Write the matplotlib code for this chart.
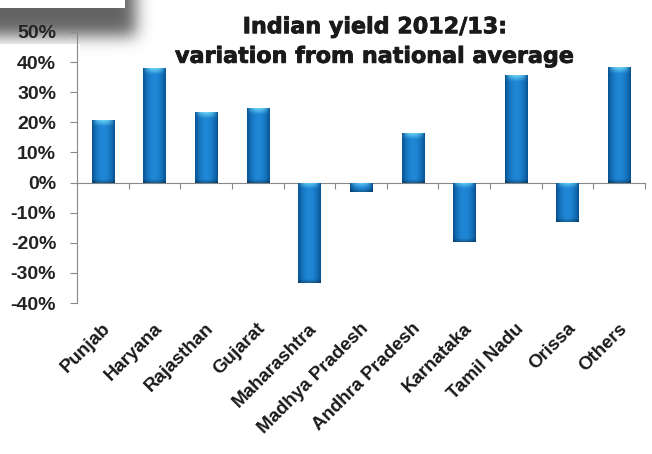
import numpy as np
import matplotlib
matplotlib.use("Agg")
import matplotlib.pyplot as plt
import matplotlib.ticker as mticker
import matplotlib.patheffects as pe
from matplotlib.transforms import blended_transform_factory

# data: yield variation vs national average, 2012/13
states = ["Punjab", "Haryana", "Rajasthan", "Gujarat", "Maharashtra",
          "Madhya Pradesh", "Andhra Pradesh", "Karnataka", "Tamil Nadu",
          "Orissa", "Others"]
variation = [0.207, 0.380, 0.233, 0.247, -0.333, -0.033, 0.163, -0.197,
             0.357, -0.130, 0.383]
yticks = [-0.4, -0.3, -0.2, -0.1, 0.0, 0.1, 0.2, 0.3, 0.4, 0.5]

W, H, DPI = 652, 454, 100
fig = plt.figure(figsize=(W / DPI, H / DPI), dpi=DPI)
fig.patch.set_facecolor("white")

# --- soft drop-shadow box in the top-left corner ---
bg = fig.add_axes([0, 0, 1, 1], zorder=-10)
bg.set_axis_off()
yy, xx = np.mgrid[0:H, 0:W]


def blur(a, s):
    r = int(3 * s)
    k = np.exp(-0.5 * (np.arange(-r, r + 1) / s) ** 2)
    k /= k.sum()
    a = np.apply_along_axis(lambda v: np.convolve(v, k, mode="same"), 0, a)
    a = np.apply_along_axis(lambda v: np.convolve(v, k, mode="same"), 1, a)
    return a


pad = 60
big = np.zeros((H + 2 * pad, W + 2 * pad))
big[:pad + 36, :pad + 136] = 1
shadow = blur(big, 8)[pad:pad + H, pad:pad + W]
shadow[(yy > 43) & (xx < 80)] = 0
shadow = np.clip(shadow * 0.95, 0, 1)
img = np.ones((H, W, 4))
img[..., :3] = 0.36
img[..., 3] = shadow
img[(xx < 125) & (yy < 8)] = [1, 1, 1, 1]
bg.imshow(img, extent=(0, W, H, 0), aspect="auto", interpolation="bilinear")
bg.set_xlim(0, W)
bg.set_ylim(H, 0)

# --- main chart ---
ax = fig.add_axes([77 / W, 1 - 303 / H, (645 - 77) / W, (303 - 32) / H])
ax.patch.set_alpha(0)
x = np.arange(len(states))
bars = ax.bar(x, variation, width=0.43, color="#1a7cc0", zorder=2)

# cylinder-like shading on every bar
prof = np.linspace(-1, 1, 40)
shade = 1 - np.abs(prof) ** 2
dark = np.array([0.03, 0.32, 0.57])
light = np.array([0.12, 0.53, 0.84])
for b in bars:
    x0, w = b.get_x(), b.get_width()
    y0, h = b.get_y(), b.get_height()
    ylo, yhi = min(y0, y0 + h), max(y0, y0 + h)
    n = 120
    rows = np.linspace(yhi, ylo, n)
    grad = dark[None, None, :] + (light - dark)[None, None, :] * shade[None, :, None]
    grad = np.repeat(grad, n, axis=0)
    dist = (yhi - rows) / 0.02
    hl = np.clip(1 - dist, 0, 1)[:, None, None] * shade[None, :, None]
    grad = grad + (np.array([0.45, 0.85, 0.97]) - grad) * hl * 0.9
    dk = np.clip(1 - (rows - ylo) / 0.012, 0, 1)[:, None, None]
    grad = grad * (1 - 0.3 * dk)
    im = ax.imshow(grad, extent=(x0, x0 + w, ylo, yhi), aspect="auto",
                   interpolation="bilinear", zorder=3)
    im.set_clip_path(b)

ax.set_xlim(-0.5, len(states) - 0.5)
ax.set_ylim(-0.4, 0.5)
ax.set_yticks(yticks)
ax.yaxis.set_major_formatter(mticker.FuncFormatter(lambda v, _: f"{v * 100:.0f}%"))
for lab in ax.get_yticklabels():
    lab.set_fontfamily("Liberation Sans")
    lab.set_fontweight("bold")
    lab.set_fontsize(14)
    lab.set_color("#222222")
ax.tick_params(axis="y", length=5, width=0.8, color="#888888", pad=10)

ax.spines["top"].set_visible(False)
ax.spines["right"].set_visible(False)
ax.spines["left"].set_color("#888888")
ax.spines["left"].set_linewidth(0.8)
ax.spines["bottom"].set_position(("data", 0))
ax.spines["bottom"].set_color("#888888")
ax.spines["bottom"].set_linewidth(0.8)
ax.set_xticks(np.arange(0.5, len(states), 1.0))
ax.set_xticklabels([])
ax.tick_params(axis="x", length=4, width=0.8, color="#888888", direction="out")

trans = blended_transform_factory(ax.transData, ax.transAxes)
for i, name in enumerate(states):
    ax.text(i + 0.1, -0.085, name, transform=trans, rotation=45,
            rotation_mode="anchor", ha="right", va="center",
            fontfamily="Liberation Sans", fontweight="bold", fontsize=13.5,
            color="#1a1a1a")

fig.text(0.575, 1 - 42 / H, "Indian yield 2012/13:\nvariation from national average",
         ha="center", va="center", fontsize=16, fontweight="heavy",
         fontfamily="DejaVu Sans", color="#1a1a1a", linespacing=1.6,
         path_effects=[pe.withStroke(linewidth=0.6, foreground="#1a1a1a")])

fig.savefig("out.png", dpi=DPI)
